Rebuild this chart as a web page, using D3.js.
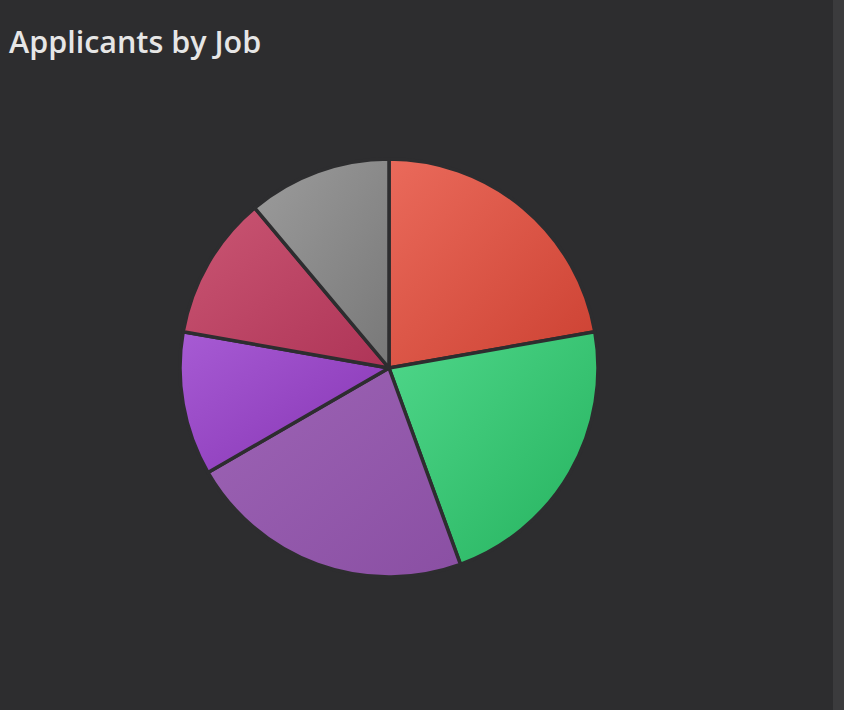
<!DOCTYPE html>
<html>
<head>
<meta charset="utf-8">
<script src="https://cdn.jsdelivr.net/npm/d3@7"></script>
<style>
  html, body { margin: 0; padding: 0; background: #2d2d2f; overflow: hidden; }
  #scroll { position: absolute; left: 833px; top: 0; width: 11px; height: 710px; background: #3b3b3d; }
</style>
</head>
<body>
<svg id="chart" width="844" height="710"></svg>
<div id="scroll"></div>
<script>
const title = "Applicants by Job";
const jobs = ["Job A", "Job B", "Job C", "Job D", "Job E", "Job F"];
const applicants = [2, 2, 2, 1, 1, 1];
const colorsLight = ["#ea6a5b", "#4fd78a", "#9d64b5", "#a75bd4", "#ca5673", "#9c9c9c"];
const colorsDark  = ["#cc4132", "#25b25e", "#8a4fa3", "#8634b3", "#ae3457", "#787878"];

const svg = d3.select("#chart");
const W = 844, H = 710;
const cx = 389, cy = 368, R = 209;

svg.append("rect").attr("width", W).attr("height", H).attr("fill", "#2d2d2f");

svg.append("text")
  .attr("x", 9).attr("y", 53)
  .attr("fill", "#e6e6e6")
  .attr("font-family", "'Open Sans', 'Noto Sans', sans-serif")
  .attr("font-weight", 600)
  .attr("font-size", 30.5)
  .text(title);

const defs = svg.append("defs");
jobs.forEach((j, i) => {
  const g = defs.append("linearGradient")
    .attr("id", "grad" + i)
    .attr("x1", "0%").attr("y1", "0%").attr("x2", "100%").attr("y2", "100%");
  g.append("stop").attr("offset", "0%").attr("stop-color", colorsLight[i]);
  g.append("stop").attr("offset", "100%").attr("stop-color", colorsDark[i]);
});

const pie = d3.pie().sort(null).value(d => d);
const arc = d3.arc().innerRadius(0).outerRadius(R);

svg.append("g").attr("transform", `translate(${cx},${cy})`)
  .selectAll("path")
  .data(pie(applicants))
  .join("path")
  .attr("d", arc)
  .attr("fill", (d, i) => `url(#grad${i})`)
  .attr("stroke", "#2d2d2f")
  .attr("stroke-width", 3.5)
  .attr("stroke-linejoin", "round");
</script>
</body>
</html>
